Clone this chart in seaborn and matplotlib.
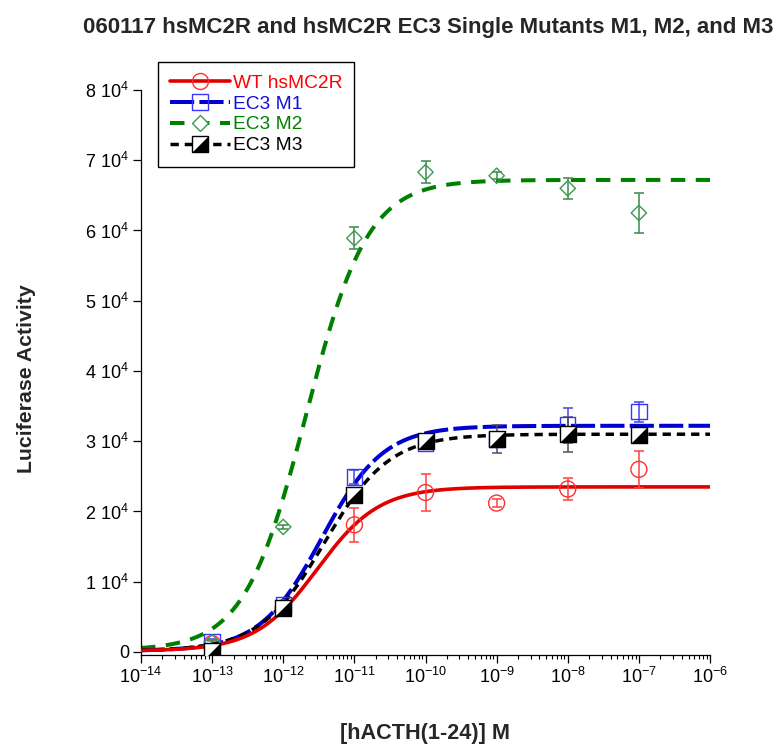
import numpy as np
import pandas as pd
import matplotlib
matplotlib.use("Agg")
import matplotlib.pyplot as plt
import seaborn as sns
from matplotlib.lines import Line2D
from matplotlib.legend_handler import HandlerTuple
from matplotlib.ticker import FuncFormatter, LogLocator, NullFormatter

# ---------------- data ----------------
concentration = [1e-13, 1e-12, 1e-11, 1e-10, 1e-9, 1e-8, 1e-7]

wt_mean = [1200, 6300, 18100, 22700, 21200, 23200, 26000]
wt_err = [400, 400, 2400, 2600, 600, 1500, 2600]

m1_mean = [1500, 6700, 24900, 29700, 30200, 32300, 34200]
m1_err = [300, 400, 1000, 600, 500, 2500, 1400]

m2_mean = [1400, 17800, 58900, 68300, 67800, 66000, 62500]
m2_err = [300, 300, 1600, 1600, 500, 1500, 2800]

m3_mean = [100, 6200, 22300, 30000, 30300, 31000, 30900]
m3_err = [300, 300, 800, 300, 2000, 2500, 300]

# fitted sigmoid parameters: bottom, top, logEC50, hill slope
wt_fit = [150, 23500, -11.52, 1.0]
m1_fit = [150, 32200, -11.46, 1.0]
m2_fit = [250, 67200, -11.68, 1.0]
m3_fit = [150, 31000, -11.42, 0.95]

series_names = ["WT hsMC2R", "EC3 M1", "EC3 M2", "EC3 M3"]
y_ticks = [0, 10000, 20000, 30000, 40000, 50000, 60000, 70000, 80000]

# ---------------- style ----------------
sns.set_style("ticks")
plt.rcParams["font.family"] = ["Liberation Sans", "DejaVu Sans"]
plt.rcParams["mathtext.fontset"] = "custom"
plt.rcParams["mathtext.rm"] = "Liberation Sans"
plt.rcParams["mathtext.it"] = "Liberation Sans:italic"
plt.rcParams["mathtext.bf"] = "Liberation Sans:bold"

W, H = 773, 746
fig = plt.figure(figsize=(W / 100, H / 100), dpi=100)
ax = fig.add_axes([141 / W, 1 - 655 / H, (710 - 141) / W, (655 - 90) / H])

line_colors = ["#e00000", "#0000d0", "#008000", "#000000"]
text_colors = ["#ff0000", "#1010d8", "#008000", "#000000"]
marker_edge = ["#ff3030", "#3535ff", "#3a9a4c", "#000000"]
err_colors = ["#ff4040", "#4545e8", "#3a8a4a", "#505050"]
styles = ["-", (0, (6, 1.3)), (0, (3.6, 2.6)), (0, (2.4, 1.7))]
widths = [2.6, 2.9, 2.9, 2.5]

xgrid = np.logspace(-14, -6, 500)
fits = [wt_fit, m1_fit, m2_fit, m3_fit]
means = [wt_mean, m1_mean, m2_mean, m3_mean]
errs = [wt_err, m1_err, m2_err, m3_err]

curve_frames = []
for name, (b, t, lec, h) in zip(series_names, fits):
    yv = b + (t - b) / (1 + 10 ** ((lec - np.log10(xgrid)) * h))
    curve_frames.append(pd.DataFrame({"x": xgrid, "y": yv, "series": name}))
curves = pd.concat(curve_frames)

points = pd.concat([
    pd.DataFrame({"x": concentration, "y": m, "err": e, "series": n})
    for n, m, e in zip(series_names, means, errs)
])

zorders_line = [5, 3, 2, 4]
for i, name in enumerate(series_names):
    d = curves[curves.series == name]
    sns.lineplot(data=d, x="x", y="y", ax=ax, color=line_colors[i],
                 linestyle=styles[i], linewidth=widths[i], zorder=zorders_line[i],
                 legend=False, estimator=None, sort=False)

# error bars
for i, name in enumerate(series_names):
    d = points[points.series == name]
    ax.errorbar(d["x"], d["y"], yerr=d["err"], fmt="none", ecolor=err_colors[i],
                elinewidth=1.1, capsize=3.8, capthick=1.1, zorder=6)

# markers
tri = [(-1, -1), (1, -1), (1, 1)]
d = points[points.series == series_names[0]]
sns.scatterplot(data=d, x="x", y="y", ax=ax, marker="o", s=11.5 ** 2,
                facecolor="none", edgecolor=marker_edge[0], linewidth=1.0, zorder=7, legend=False)
d = points[points.series == series_names[1]]
sns.scatterplot(data=d, x="x", y="y", ax=ax, marker="s", s=11 ** 2,
                facecolor="none", edgecolor=marker_edge[1], linewidth=1.0, zorder=7, legend=False)
d = points[points.series == series_names[2]]
sns.scatterplot(data=d, x="x", y="y", ax=ax, marker="D", s=7.8 ** 2,
                facecolor="none", edgecolor=marker_edge[2], linewidth=1.0, zorder=7, legend=False)
d = points[points.series == series_names[3]]
sns.scatterplot(data=d, x="x", y="y", ax=ax, marker="s", s=12 ** 2,
                facecolor="white", edgecolor="black", linewidth=1.0, zorder=8, legend=False)
sns.scatterplot(data=d, x="x", y="y", ax=ax, marker=tri, s=12 ** 2,
                facecolor="black", edgecolor="black", linewidth=0.5, zorder=9, legend=False)

# axes
ax.set_xscale("log")
ax.set_xlim(1e-14, 1e-6)
ax.set_ylim(-430, 80000)
ax.set_yticks(y_ticks)
ax.yaxis.set_major_formatter(FuncFormatter(
    lambda v, p: "0" if v == 0 else r"$\mathdefault{%d\ 10^{4}}$" % round(v / 1e4)))
ax.xaxis.set_major_locator(LogLocator(base=10, numticks=20))
ax.xaxis.set_minor_locator(LogLocator(base=10, subs=np.arange(2, 10), numticks=20))
ax.xaxis.set_minor_formatter(NullFormatter())
ax.tick_params(axis="both", which="major", direction="out", length=5.5, width=0.9,
               labelsize=13, color="black", labelcolor="black", pad=3)
ax.tick_params(axis="x", which="minor", direction="out", length=3, width=0.8, color="black")
for side in ["top", "right"]:
    ax.spines[side].set_visible(False)
for side in ["left", "bottom"]:
    ax.spines[side].set_color("black")
    ax.spines[side].set_linewidth(0.9)

ax.set_xlabel("[hACTH(1-24)] M", fontsize=15.6, fontweight="bold")
ax.set_ylabel("Luciferase Activity", fontsize=15.3, fontweight="bold")
ax.xaxis.set_label_coords(0.5, (655 - 733) / 565)
ax.yaxis.set_label_coords((27 - 141) / 569, 0.49)
ax.xaxis.label.set_va("center")
ax.yaxis.label.set_va("center")

fig.text(428 / W, 1 - 28 / H, "060117 hsMC2R and hsMC2R EC3 Single Mutants M1, M2, and M3",
         ha="center", va="center", fontsize=16, fontweight="bold")

# legend
h_wt = Line2D([], [], color=line_colors[0], linestyle=styles[0], linewidth=widths[0],
              marker="o", markersize=11.5, markerfacecolor="none", markeredgecolor=marker_edge[0], markeredgewidth=1)
h_m1 = Line2D([], [], color=line_colors[1], linestyle=styles[1], linewidth=widths[1],
              marker="s", markersize=11, markerfacecolor="none", markeredgecolor=marker_edge[1], markeredgewidth=1)
h_m2 = Line2D([], [], color=line_colors[2], linestyle=styles[2], linewidth=widths[2],
              marker="D", markersize=7.8, markerfacecolor="white", markeredgecolor=marker_edge[2], markeredgewidth=1)
h_m3a = Line2D([], [], color=line_colors[3], linestyle=styles[3], linewidth=widths[3],
               marker="s", markersize=12, markerfacecolor="white", markeredgecolor="black", markeredgewidth=1)
h_m3b = Line2D([], [], linestyle="none", marker=tri, markersize=12,
               markerfacecolor="black", markeredgecolor="black", markeredgewidth=0.5)
leg = ax.legend([h_wt, h_m1, h_m2, (h_m3a, h_m3b)], series_names,
                handler_map={tuple: HandlerTuple(ndivide=1, pad=0)},
                loc="upper left", bbox_to_anchor=(158 / W, 1 - 62 / H),
                bbox_transform=fig.transFigure, borderaxespad=0, fontsize=13.8,
                frameon=True, fancybox=False, framealpha=1, edgecolor="black",
                handlelength=3.1, handletextpad=0.15, labelspacing=0.18,
                borderpad=0.64)
leg.get_frame().set_linewidth(1.0)
for txt, c in zip(leg.get_texts(), text_colors):
    txt.set_color(c)
leg.set_zorder(20)

fig.savefig("out.png", dpi=100)
